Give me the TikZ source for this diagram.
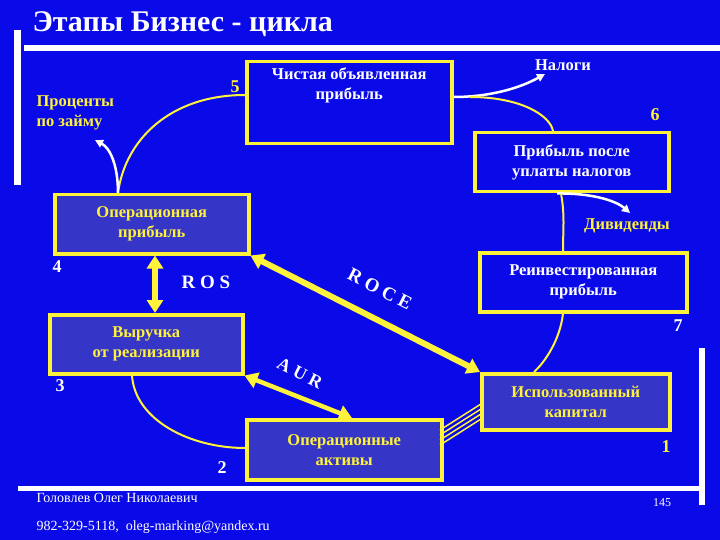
\documentclass[tikz,border=0pt]{standalone}
\usepackage{fontspec}
\setmainfont{Liberation Serif}
\usetikzlibrary{arrows.meta}
\definecolor{bg}{HTML}{0A0AE8}
\definecolor{lbox}{HTML}{3535C8}
\definecolor{yel}{HTML}{FFF23A}
\begin{document}
\begin{tikzpicture}[x=1pt,y=-1pt,
  box/.style={draw=yel,line width=3.5pt,inner sep=0pt,anchor=north west,align=center,font=\bfseries\fontsize{16.5}{20}\selectfont},
  wb/.style={box,fill=bg,text=white},
  yb/.style={box,fill=lbox,text=yel},
  lab/.style={font=\bfseries\fontsize{18}{20}\selectfont},
  ycur/.style={yel,line width=2pt},
  warr/.style={white,line width=2.5pt,-{Triangle[length=8pt,width=8pt]}},
  big/.style={yel,line width=6pt,{Triangle[length=13pt,width=16pt]}-{Triangle[length=13pt,width=16pt]}}]
\fill[bg] (0,0) rectangle (720,540);
\useasboundingbox (0,0) rectangle (720,540);
\node[white,font=\bfseries\fontsize{30}{32}\selectfont,anchor=west] (title) at (29,24) {Этапы Бизнес - цикла};
\fill[white] (24,45) rectangle (720,51);
\fill[white] (14,30) rectangle (21,185);
\fill[white] (18,486) rectangle (700,491);
\fill[white] (699,348) rectangle (705,505);
% boxes
\node[wb,minimum width=205pt,minimum height=82pt] (np) at (245,60) {};
\node[white,font=\bfseries\fontsize{16.5}{20}\selectfont,align=center,anchor=north] (npt) at (np.north) [yshift=-4pt] {Чистая объявленная\\прибыль};
\node[wb,minimum width=194pt,minimum height=59pt] (at) at (473,131) {Прибыль после\\уплаты налогов};
\node[wb,minimum width=207pt,minimum height=59pt] (rp) at (478,251) {Реинвестированная\\прибыль};
\node[yb,minimum width=188pt,minimum height=56pt] (uc) at (480,372) {Использованный\\капитал};
\node[yb,minimum width=194pt,minimum height=59pt] (op) at (53,193) {Операционная\\прибыль};
\node[yb,minimum width=193pt,minimum height=59pt] (rv) at (48,313) {Выручка\\от реализации};
\node[yb,minimum width=195pt,minimum height=60pt] (oa) at (245,418) {Операционные\\активы};
% labels
\node[lab,yel] (n5) at (235,87) {5};
\node[lab,yel] (n6) at (655,115) {6};
\node[lab,white] (n7) at (678,326) {7};
\node[lab,yel] (n1) at (666,447) {1};
\node[lab,white] (n4) at (57,267) {4};
\node[lab,white] (n3) at (60,386) {3};
\node[lab,white] (n2) at (222,468) {2};
\node[yel,font=\bfseries\fontsize{16.5}{20}\selectfont,align=left,anchor=west] (pz) at (33,113) {Проценты\\по займу};
\node[white,font=\bfseries\fontsize{16.5}{20}\selectfont] (tax) at (563,65) {Налоги};
\node[yel,font=\bfseries\fontsize{16.5}{20}\selectfont] (div) at (627,226) {Дивиденды};
\coordinate (pzt) at (95,140);
\coordinate (divt) at (630,213);
\coordinate (taxt) at (545,74);
% connectors
\draw[ycur] (np.west |- 0,95) .. controls (170,95) and (125,140) .. (op.north -| 118,0);
\draw[warr] (op.north -| 118,0) .. controls (118,165) and (110,148) .. (pzt);
\draw[warr] (np.east |- 0,97) .. controls (490,97) and (520,88) .. (taxt);
\draw[ycur] (470,97) .. controls (520,97) and (550,115) .. (at.north -| 553,0);
\draw[warr] (at.south -| 557,0) .. controls (590,193) and (615,200) .. (divt);
\draw[ycur] (at.south -| 561,0) .. controls (565,215) and (563,230) .. (rp.north -| 563,0);
\draw[ycur] (rp.south -| 563,0) .. controls (560,340) and (545,362) .. (uc.north -| 534,0);
\draw[ycur] (rv.south -| 132,0) .. controls (135,420) and (190,448) .. (oa.west |- 0,448);
\draw[big] (op.south -| 155,0) -- (rv.north -| 155,0);
\draw[big] (op.south east) -- (uc.north west);
\draw[big,line width=4.5pt] (rv.south east) -- (oa.north -| 352,0);
\foreach \d in {0,5,10,15}
  \draw[yel,line width=1.5pt] (440,445-\d) -- (481,419-\d);
\node[white,font=\bfseries\fontsize{19}{20}\selectfont] (ros) at (206,282) {R O S};
\node[white,font=\bfseries\fontsize{19}{20}\selectfont,rotate=-27] (roce) at (380,289) {R O C E};
\node[white,font=\bfseries\fontsize{18}{20}\selectfont,rotate=-27] (aur) at (300,373) {A U R};
\node[white,font=\fontsize{14}{16}\selectfont,anchor=west] (f1) at (33,498) {Головлев Олег Николаевич};
\node[white,font=\fontsize{12}{14}\selectfont] (f2) at (662,503) {145};
\node[white,font=\fontsize{14}{16}\selectfont,anchor=west] (f3) at (33,527) {982-329-5118,\ \ oleg-marking@yandex.ru};
\end{tikzpicture}
\end{document}
